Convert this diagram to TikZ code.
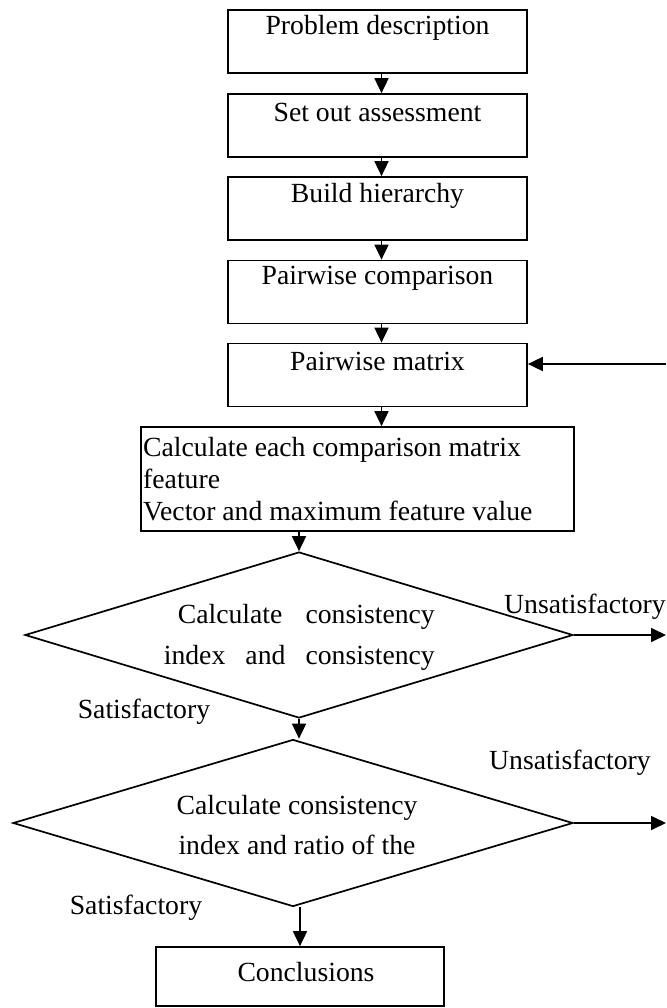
\documentclass[tikz,border=0pt]{standalone}
\usepackage{fontspec}
\setmainfont{Liberation Serif}
\usetikzlibrary{arrows.meta,shapes.geometric}
\begin{document}
\begin{tikzpicture}[x=1pt,y=-1pt,
  every node/.style={inner sep=0pt},
  stepbox/.style={draw,line width=1.7pt,minimum width=299pt,minimum height=63pt},
  decision/.style={draw,diamond,line width=1.7pt,inner sep=0pt},
  txt/.style={font=\fontsize{27.7}{33}\selectfont},
  arr/.style={line width=1.7pt,-{Triangle[length=15pt,width=14pt]}}]
\useasboundingbox (0,0) rectangle (666,1008);

% process boxes
\node[stepbox] (b1) at (377.5,41.5) {};
\node[stepbox] (b2) at (377.5,125.5) {};
\node[stepbox] (b3) at (377.5,208.5) {};
\node[stepbox] (b4) at (377.5,292) {};
\node[stepbox] (b5) at (377.5,375) {};
\node[stepbox,minimum width=433pt,minimum height=104pt] (b6) at (357.5,479) {};
\node[stepbox,minimum width=288pt,minimum height=59pt] (b7) at (300,976.5) {};

\node[txt] (t1) at ([yshift=-19pt]b1.north) {Problem description};
\node[txt] (t2) at ([yshift=-19pt]b2.north) {Set out assessment};
\node[txt] (t3) at ([yshift=-20pt]b3.north) {Build hierarchy};
\node[txt] (t4) at ([yshift=-19pt]b4.north) {Pairwise comparison};
\node[txt] (t5) at ([yshift=-19pt]b5.north) {Pairwise matrix};
\node[txt,align=left,anchor=west,font=\fontsize{27.7}{32}\selectfont] (t6) at (143,479)
  {Calculate each comparison matrix\\feature\\Vector and maximum feature value};
\node[txt] (t7) at (306,972) {Conclusions};

% decisions
\node[decision,minimum width=548pt,minimum height=166pt] (d1) at (299,635) {};
\node[decision,minimum width=560pt,minimum height=167pt] (d2) at (293,823) {};

\node[txt,align=right,anchor=east,font=\fontsize{27.7}{41}\selectfont] (dt1) at (435,637.5)
  {\makebox[257pt][s]{Calculate consistency}\\\makebox[271pt][s]{index and consistency}};
\node[txt,align=center,font=\fontsize{27.7}{40}\selectfont] (dt2) at (297,825)
  {Calculate consistency\\index and ratio of the};

% branch labels
\node[txt] (s1) at (144,712) {Satisfactory};
\node[txt] (s2) at (136,908) {Satisfactory};
\node[txt] (u1) at (585,607) {Unsatisfactory};
\node[txt] (u2) at (570,763) {Unsatisfactory};

% free ends at the right margin
\coordinate (fb) at (666,364);
\coordinate (o1) at (666,635);
\coordinate (o2) at (666,823);

% connectors
\draw[arr] ([xshift=4pt]b1.south) -- ([xshift=4pt]b2.north);
\draw[arr] ([xshift=4pt]b2.south) -- ([xshift=4pt]b3.north);
\draw[arr] ([xshift=4pt]b3.south) -- ([xshift=4pt]b4.north);
\draw[arr] ([xshift=4pt]b4.south) -- ([xshift=4pt]b5.north);
\draw[arr] ([xshift=4pt]b5.south) -- ([xshift=4pt]b5.south |- b6.north);
\draw[arr] (d1.north |- b6.south) -- (d1.north);
\draw[arr] (d1.south) -- (d1.south |- d2.north);
\draw[arr] ([xshift=7pt]d2.south) -- ([xshift=7pt]d2.south |- b7.north);
\draw[arr] (fb) -- (fb -| b5.east);
\draw[arr] (d1.east) -- (o1);
\draw[arr] (d2.east) -- (o2);
\end{tikzpicture}
\end{document}
